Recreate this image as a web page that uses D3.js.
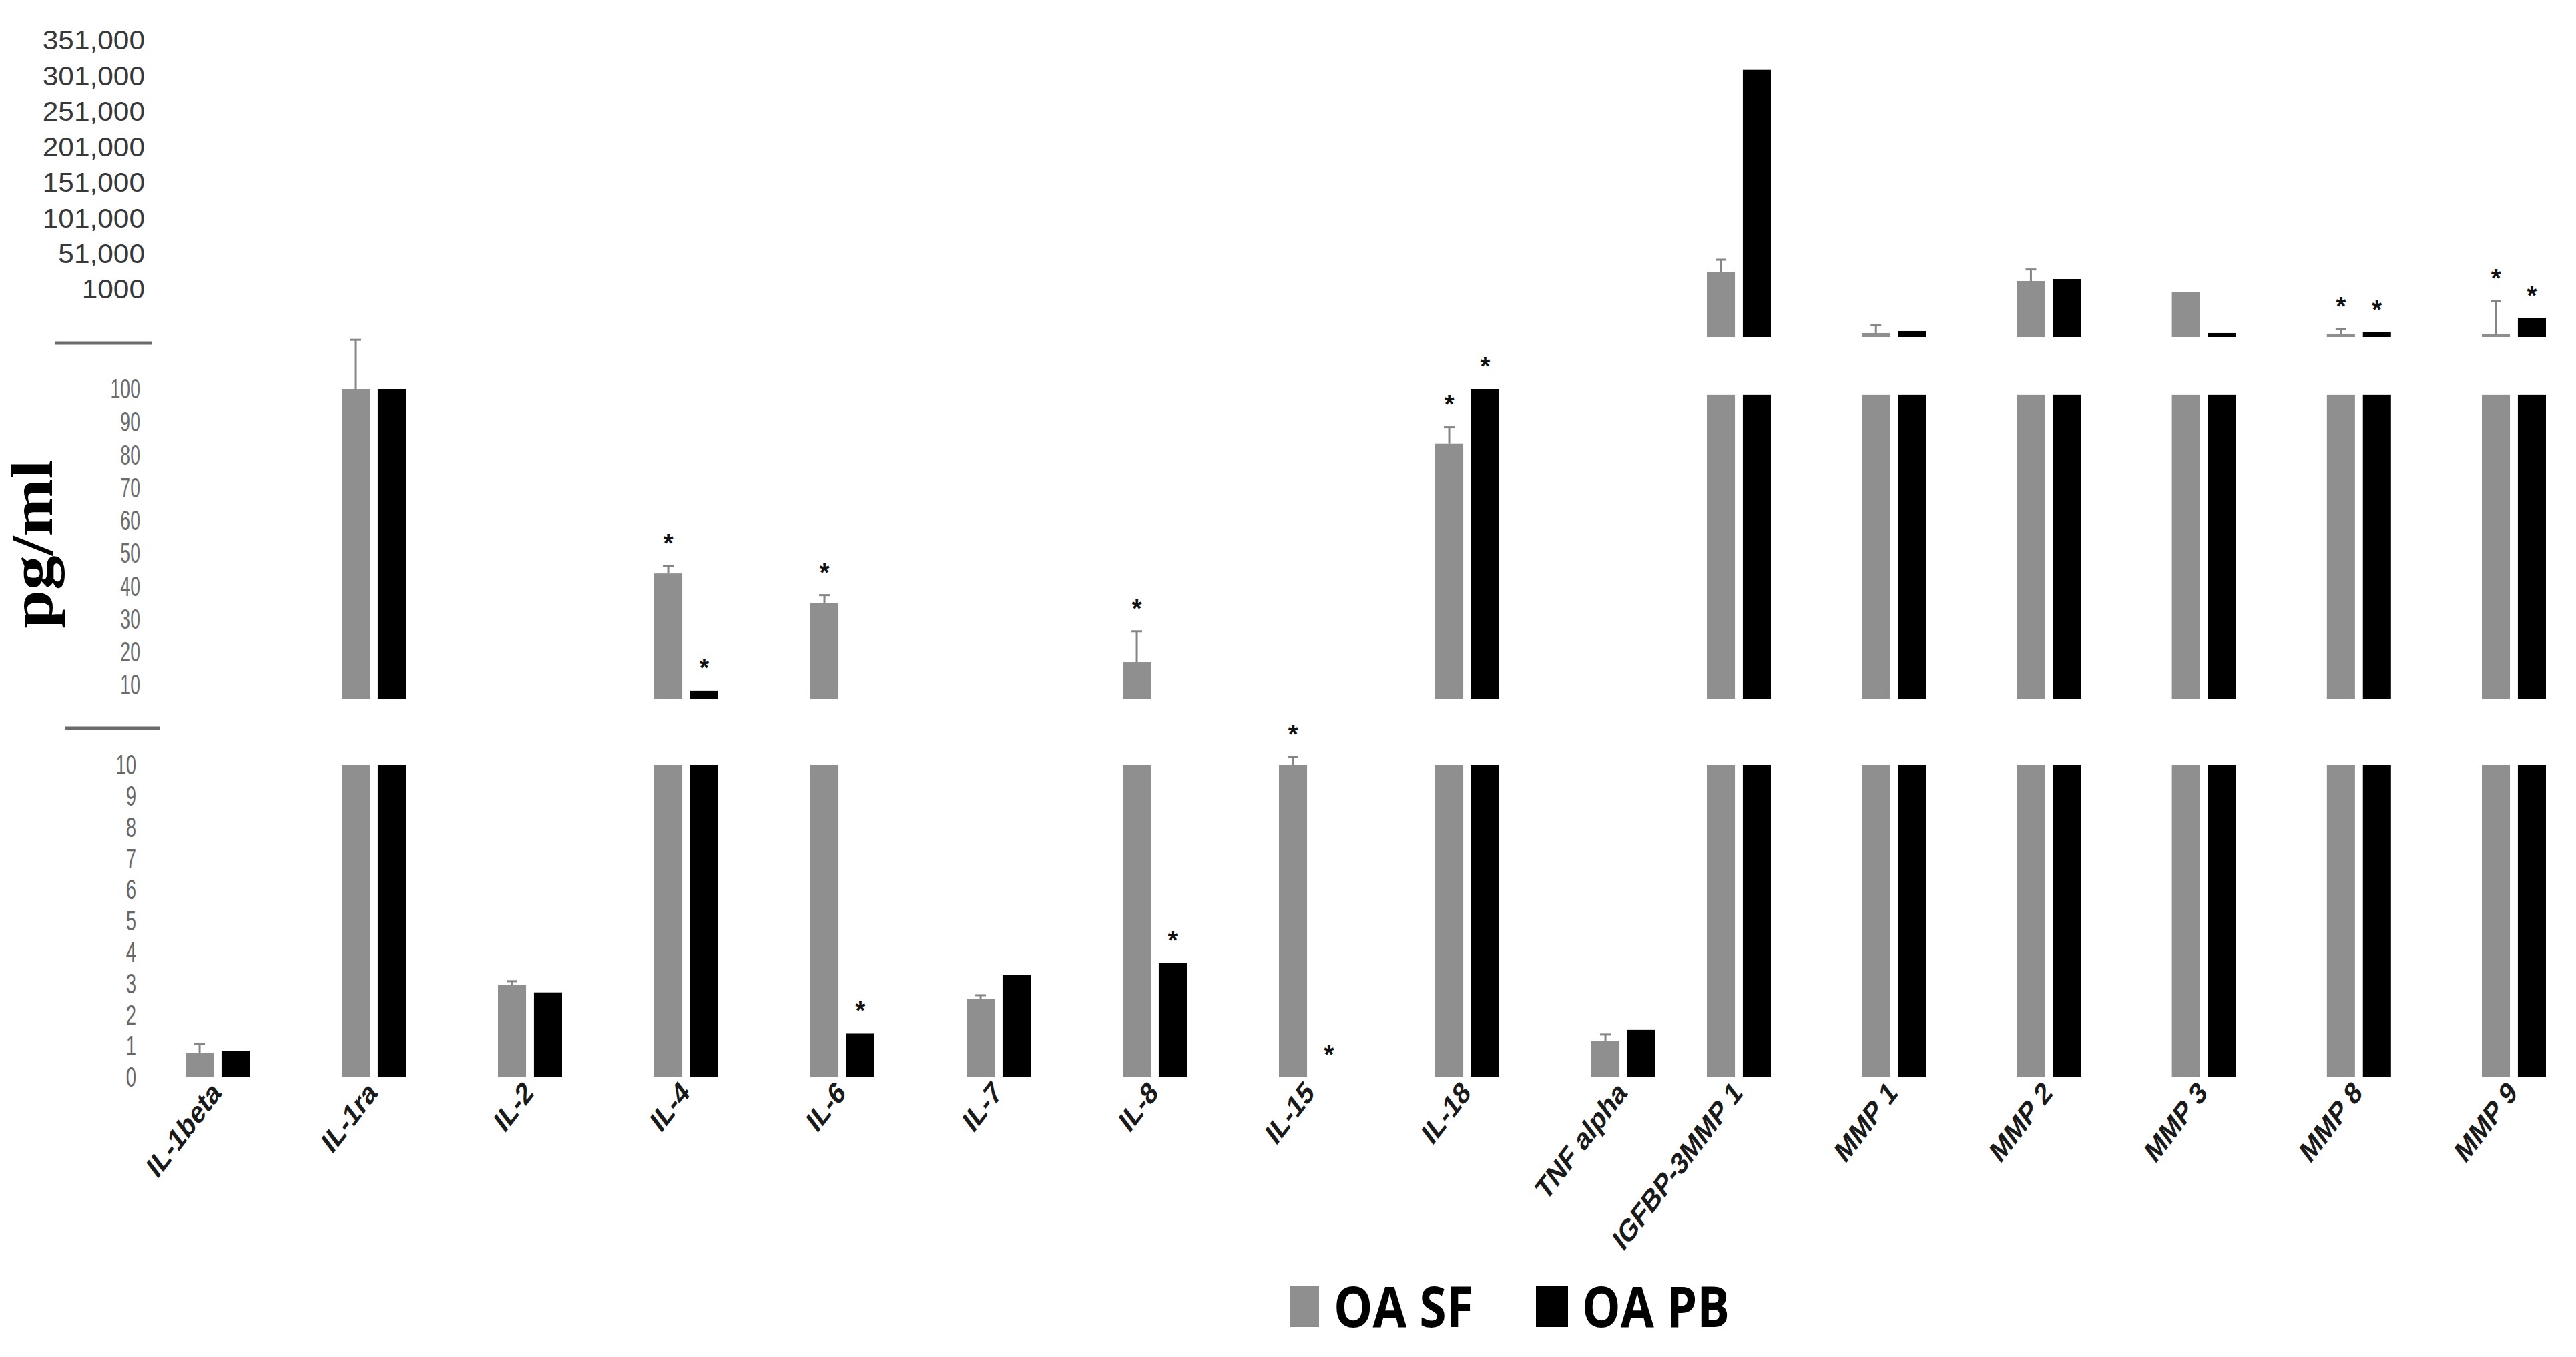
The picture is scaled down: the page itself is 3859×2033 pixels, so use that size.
<!DOCTYPE html>
<html><head><meta charset="utf-8">
<script src="https://cdnjs.cloudflare.com/ajax/libs/d3/7.8.5/d3.min.js"></script>
<style>body{margin:0;background:#fff;} svg{display:block;background:#fff;}</style>
</head><body>
<svg id="chart" width="3859" height="2033"></svg>
<script>
// ---------------- DATA ----------------
const categories = ["IL-1beta","IL-1ra","IL-2","IL-4","IL-6","IL-7","IL-8","IL-15","IL-18","TNF alpha","IGFBP-3MMP 1","MMP 1","MMP 2","MMP 3","MMP 8","MMP 9"];
const seriesNames = ["OA SF","OA PB"];

// Lower segment (0–10 pg/ml); values above 10 are shown cut at 10
const lowSF    = [0.77, 10, 2.95, 10, 10, 2.5, 10, 10, 10, 1.16, 10, 10, 10, 10, 10, 10];
const lowSFerr = [1.06, null, 3.08, null, null, 2.63, null, 10.25, null, 1.37, null, null, null, null, null, null];
const lowPB    = [0.85, 10, 2.72, 10, 1.40, 3.29, 3.66, 0, 10, 1.52, 10, 10, 10, 10, 10, 10];

// Middle segment (10–100 pg/ml)
const midSF    = [null, 100, null, 43.9, 34.8, null, 16.9, null, 83.4, null, 98.2, 98.2, 98.2, 98.2, 98.2, 98.2];
const midSFerr = [null, 115, null, 46.2, 37.3, null, 26.3, null, 88.5, null, null, null, null, null, null, null];
const midPB    = [null, 100, null, 8.2, null, null, null, null, 100, null, 98.2, 98.2, 98.2, 98.2, 98.2, 98.2];

// Upper segment (1000–351,000 pg/ml)
const topSF    = [null, null, null, null, null, null, null, null, null, null, 26300, 85, 13200, 950, 70, 70];
const topSFerr = [null, null, null, null, null, null, null, null, null, null, 43200, 246, 29500, null, 169, 760];
const topPB    = [null, null, null, null, null, null, null, null, null, null, 310000, 127, 16000, 85, 99, 400];

// Significance marks (*)
const lowStarsSF = ["IL-15"];
const lowStarsPB = ["IL-6", "IL-8", "IL-15"];
const midStarsSF = ["IL-4", "IL-6", "IL-8", "IL-18"];
const midStarsPB = ["IL-4", "IL-18"];
const topStarsSF = ["MMP 8", "MMP 9"];
const topStarsPB = ["MMP 8", "MMP 9"];

// Tick labels
const lowTicks = [0,1,2,3,4,5,6,7,8,9,10];
const lowTickLabels = ["0","1","2","3","4","5","6","7","8","9","10"];
const midTicks = [10,20,30,40,50,60,70,80,90,100];
const midTickLabels = ["10","20","30","40","50","60","70","80","90","100"];
const topTicks = [1000,51000,101000,151000,201000,251000,301000,351000];
const topTickLabels = ["1000","51,000","101,000","151,000","201,000","251,000","301,000","351,000"];

const yTitle = "pg/ml";

// ---------------- SCALES ----------------
const catIndex = d3.scaleOrdinal().domain(categories).range(d3.range(categories.length));
const xGroup = d3.scaleLinear().domain([0, 9, 10, 15]).range([326, 2432, 2605, 3766]);
const xSub = d3.scaleBand().domain(seriesNames).range([-48, 48]).paddingInner(0.22);
const colors = d3.scaleOrdinal().domain(seriesNames).range(["#8f8f8f", "#000000"]);

const yLow = d3.scaleLinear().domain([0, 10]).range([1614, 1146]);
const yMid = d3.scaleLinear().domain([10, 100]).range([1026, 583]);
const yTop = d3.scaleLinear().domain([0, 1000, 351000]).range([505, 434, 61]);

const panels = [
  {y: yLow, floor: yLow(0), sf: lowSF, sfErr: lowSFerr, pb: lowPB, starsSF: lowStarsSF, starsPB: lowStarsPB,
   ticks: lowTicks, labels: lowTickLabels, axisX: 204, sx: 0.64, fs: 43, color: "#666666"},
  {y: yMid, floor: 1047, sf: midSF, sfErr: midSFerr, pb: midPB, starsSF: midStarsSF, starsPB: midStarsPB,
   ticks: midTicks, labels: midTickLabels, axisX: 210, sx: 0.62, fs: 43, color: "#6c6c6c"},
  {y: yTop, floor: 505, sf: topSF, sfErr: topSFerr, pb: topPB, starsSF: topStarsSF, starsPB: topStarsPB,
   ticks: topTicks, labels: topTickLabels, axisX: 217, sx: 1.06, fs: 40, color: "#383838"}
];

const svg = d3.select("#chart");
const FONT = "Arial, 'Liberation Sans', sans-serif";

panels.forEach(p => {
  const ax = d3.axisLeft(p.y).tickValues(p.ticks).tickFormat((d, i) => p.labels[i]).tickSize(0).tickPadding(0);
  const ag = svg.append("g").attr("transform", `translate(${p.axisX},0)`).call(ax);
  ag.select(".domain").remove();
  ag.selectAll("text")
    .attr("x", 0)
    .attr("transform", `scale(${p.sx},1)`)
    .attr("fill", p.color)
    .style("font-family", FONT)
    .style("font-size", p.fs + "px");

  const g = svg.append("g");
  seriesNames.forEach((s, si) => {
    const vals = si === 0 ? p.sf : p.pb;
    const rows = categories.map((c, i) => ({c, i, v: vals[i]})).filter(d => d.v !== null);
    g.selectAll(null).data(rows).enter().append("rect")
      .attr("x", d => xGroup(catIndex(d.c)) + xSub(s))
      .attr("width", xSub.bandwidth())
      .attr("y", d => p.y(d.v))
      .attr("height", d => Math.max(0, p.floor - p.y(d.v)))
      .attr("fill", colors(s));
  });

  const errs = categories.map((c, i) => ({c, i, v: p.sf[i], e: p.sfErr[i]})).filter(d => d.e !== null);
  const cxSF = d => xGroup(catIndex(d.c)) + xSub("OA SF") + xSub.bandwidth() / 2;
  g.selectAll(null).data(errs).enter().append("line")
    .attr("x1", cxSF).attr("x2", cxSF)
    .attr("y1", d => p.y(d.v)).attr("y2", d => p.y(d.e))
    .attr("stroke", "#858585").attr("stroke-width", 3);
  g.selectAll(null).data(errs).enter().append("line")
    .attr("x1", d => cxSF(d) - 8).attr("x2", d => cxSF(d) + 8)
    .attr("y1", d => p.y(d.e)).attr("y2", d => p.y(d.e))
    .attr("stroke", "#858585").attr("stroke-width", 3);

  const starRows = [];
  p.starsSF.forEach(c => {
    const i = catIndex(c);
    const top = Math.max(p.sf[i] ?? 0, p.sfErr[i] ?? 0);
    starRows.push({x: xGroup(i) + xSub("OA SF") + xSub.bandwidth() / 2, y: p.y(top)});
  });
  p.starsPB.forEach(c => {
    const i = catIndex(c);
    const v = p.pb[i] ?? 0;
    starRows.push({x: xGroup(i) + xSub("OA PB") + xSub.bandwidth() / 2, y: Math.min(p.y(v), p.floor)});
  });
  g.selectAll(null).data(starRows).enter().append("text")
    .attr("x", d => d.x).attr("y", d => d.y - 42 + 21)
    .attr("text-anchor", "middle")
    .attr("font-family", FONT).attr("font-weight", "bold").attr("font-size", 38)
    .attr("fill", "#111").text("*");
});

// break lines
svg.append("line").attr("x1", 83).attr("x2", 228).attr("y1", 514).attr("y2", 514)
  .attr("stroke", "#6b6b6b").attr("stroke-width", 5);
svg.append("line").attr("x1", 98).attr("x2", 239).attr("y1", 1091).attr("y2", 1091)
  .attr("stroke", "#6b6b6b").attr("stroke-width", 5);

// y title
svg.append("text")
  .attr("transform", "translate(78,815) rotate(-90)")
  .attr("text-anchor", "middle")
  .attr("font-family", "'Liberation Serif', 'Times New Roman', serif")
  .attr("font-weight", "bold").attr("font-size", 88)
  .attr("textLength", 253).attr("lengthAdjust", "spacingAndGlyphs")
  .attr("fill", "#000").text(yTitle);

// x labels (45° labels, stretched vertically like the source image)
svg.append("g").selectAll("text").data(categories).enter().append("text")
  .attr("transform", d => `translate(${xGroup(catIndex(d)) - 2},1628) scale(1,1.31) rotate(-45)`)
  .attr("text-anchor", "end")
  .attr("dy", "0.35em")
  .attr("font-family", FONT).attr("font-weight", "bold").attr("font-size", 36)
  .attr("fill", "#1a1a1a").text(d => d);

// legend
const leg = svg.append("g");
const legendItems = [
  {s: "OA SF", rx: 1932, rw: 44, tx: 1998, tw: 209},
  {s: "OA PB", rx: 2301, rw: 48, tx: 2370, tw: 221}
];
legendItems.forEach(l => {
  leg.append("rect").attr("x", l.rx).attr("y", 1927).attr("width", l.rw).attr("height", 61).attr("fill", colors(l.s));
  leg.append("text").attr("x", l.tx).attr("y", 1988)
    .attr("font-family", "'Open Sans', 'DejaVu Sans', sans-serif").attr("font-weight", "bold").attr("font-size", 85)
    .attr("textLength", l.tw).attr("lengthAdjust", "spacingAndGlyphs")
    .attr("fill", "#000").text(l.s);
});
</script>
</body></html>
